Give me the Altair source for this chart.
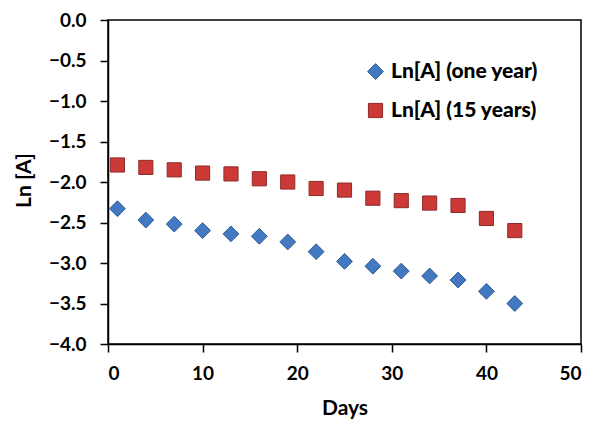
import altair as alt
import pandas as pd

days = [1, 4, 7, 10, 13, 16, 19, 22, 25, 28, 31, 34, 37, 40, 43]
one_year = [-2.33, -2.47, -2.52, -2.60, -2.64, -2.67, -2.74, -2.86, -2.98, -3.04, -3.10, -3.16, -3.21, -3.35, -3.50]
fifteen_years = [-1.79, -1.82, -1.85, -1.89, -1.90, -1.96, -2.00, -2.08, -2.10, -2.20, -2.23, -2.26, -2.29, -2.45, -2.60]
series_names = ["Ln[A] (one year)", "Ln[A] (15 years)"]
x_ticks = [0, 10, 20, 30, 40, 50]
y_ticks = [0.0, -0.5, -1.0, -1.5, -2.0, -2.5, -3.0, -3.5, -4.0]

rows = []
for d, v in zip(days, one_year):
    rows.append({"Days": d, "Ln": v, "Series": series_names[0]})
for d, v in zip(days, fifteen_years):
    rows.append({"Days": d, "Ln": v, "Series": series_names[1]})
df = pd.DataFrame(rows)

FONT = "Lato"

chart = alt.Chart(df).mark_point(filled=True, opacity=1, strokeWidth=1).encode(
    x=alt.X("Days:Q", title="Days",
            scale=alt.Scale(domain=[0, 50], nice=False, zero=False),
            axis=alt.Axis(values=x_ticks, format="d", grid=False, tickSize=8,
                          labelPadding=12, titlePadding=14)),
    y=alt.Y("Ln:Q", title="Ln [A]",
            scale=alt.Scale(domain=[-4, 0], nice=False, zero=False),
            axis=alt.Axis(values=y_ticks, format=".1f", grid=False, tickSize=8,
                          labelPadding=14, titlePadding=14, titleY=160)),
    color=alt.Color("Series:N",
                    scale=alt.Scale(domain=series_names, range=["#4279c0", "#cc3a37"]),
                    legend=alt.Legend(title=None, orient="none", legendX=257, legendY=41,
                                      symbolSize=150, rowPadding=17,
                                      labelOffset=5, symbolStrokeWidth=1,
                                      labelFontWeight=900)),
    shape=alt.Shape("Series:N",
                    scale=alt.Scale(domain=series_names, range=["diamond", "square"]),
                    legend=None),
    size=alt.Size("Series:N",
                  scale=alt.Scale(domain=series_names, range=[250, 200]),
                  legend=None),
    stroke=alt.Stroke("Series:N",
                      scale=alt.Scale(domain=series_names, range=["#2f5d96", "#8e2a28"]),
                      legend=None),
).properties(
    width=473,
    height=324,
    autosize=alt.AutoSizeParams(type="none"),
    padding={"left": 100, "top": 12, "right": 5, "bottom": 77},
).configure_view(
    stroke="black", strokeWidth=1.5
).configure_axis(
    domainColor="black", domainWidth=1.5, tickColor="black", tickWidth=1.5,
    labelFont=FONT, labelFontSize=19, labelFontWeight="bold", labelColor="black",
    titleFont=FONT, titleFontSize=21, titleFontWeight="bold", titleColor="black",
).configure_legend(
    labelFont=FONT, labelFontSize=21, labelColor="black",
    labelLimit=400,
)

chart.save("out.html", embed_options={"renderer": "svg", "actions": False})
